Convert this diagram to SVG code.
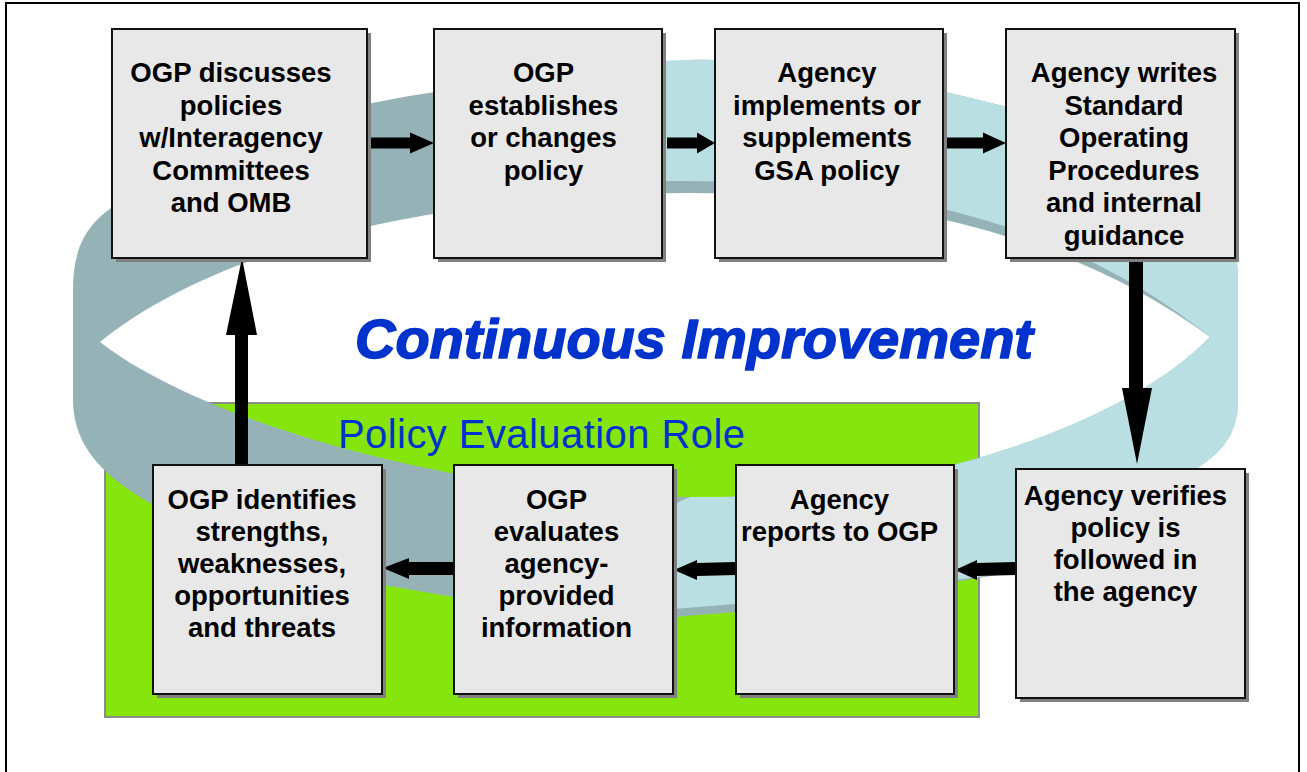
<svg xmlns="http://www.w3.org/2000/svg" width="1307" height="772" viewBox="0 0 1307 772">
<style>
.shadow{fill:#808080;}
.box{fill:#E8E8E8;stroke:#111;stroke-width:2;}
.t{font-family:"Liberation Sans",Arial,sans-serif;font-weight:bold;font-size:27.5px;fill:#000;text-anchor:middle;}
.arrow{fill:#000;}
</style>
<rect x="0" y="0" width="1307" height="772" fill="#fff"/>
<rect x="6" y="3" width="1293" height="800" fill="none" stroke="#000" stroke-width="2"/>
<g id="evaluation-area">
<rect x="105" y="403" width="874" height="314" fill="#86E50C" stroke="#8C8C8C" stroke-width="2"/>
</g>
<g id="ring">
<path fill="#95B3B7" fill-rule="evenodd" d="M73,400 L73,290 C73,245 88,222 120,202 C200,150 300,110 450,90 C530,78 600,64 690,60 C800,58 900,80 1007,107 C1150,145 1238,190 1238,280 L1238,400 C1238,430 1225,450 1200,466 C1130,520 1070,555 1016,572 C940,584 820,605 736,612 L673,617 C560,612 500,604 454,597 L383,585 C280,565 200,535 150,503 C110,480 73,450 73,400 Z M100,342 C200,260 400,195 690,193 C900,193 1080,240 1210,337 C1120,430 900,500 690,497 C450,495 200,420 100,342 Z"/>
<path fill="#B9DFE2" d="M640,62 C660,61 675,60 690,60 C800,58 900,80 1007,107 C1150,145 1238,190 1238,280 L1238,400 C1238,430 1225,450 1200,466 C1130,520 1070,555 1016,572 C940,582 820,598 736,604 L660,610 L660,510 L690,497 C900,500 1120,430 1210,337 C1075,228 900,181 690,181 L640,181 Z"/>
</g>
<text x="355" y="358" textLength="678" lengthAdjust="spacingAndGlyphs" font-family="'Liberation Sans',Arial,sans-serif" font-weight="bold" font-style="italic" font-size="56" fill="#0033CC" stroke="#0033CC" stroke-width="1.6" stroke-linejoin="round">Continuous Improvement</text>
<text x="338" y="448" textLength="407" font-family="'Liberation Sans',Arial,sans-serif" font-size="40" fill="#0033CC">Policy Evaluation Role</text>
<g id="connectors">
<polygon class="arrow" points="369,137.5 410,137.5 410,132.5 434,143 410,153.5 410,148.5 369,148.5"/>
<polygon class="arrow" points="667,137.5 697,137.5 697,132.5 715,143 697,153.5 697,148.5 667,148.5"/>
<polygon class="arrow" points="943,137.5 983,137.5 983,132.5 1006,143 983,153.5 983,148.5 943,148.5"/>
<polygon class="arrow" points="1129,258 1143,258 1143,388 1152,388 1137,464 1122,388 1129,388"/>
<polygon class="arrow" points="1016,562 977,563 977,560 955,570 977,580 977,576 1016,575"/>
<polygon class="arrow" points="736,562 697,563 697,560 674,570 697,580 697,576 736,575"/>
<polygon class="arrow" points="454,562 409,562 409,558 383,568 409,579 409,575 454,575"/>
<polygon class="arrow" points="235,465 248,465 248,335 257,335 242,258 226,335 235,335"/>
</g>
<g id="n1">
<rect class="shadow" x="116" y="33" width="255" height="229"/>
<rect class="box" x="112" y="29" width="255" height="229"/>
<text class="t"><tspan x="231" y="82">OGP discusses</tspan><tspan x="231" y="114.5">policies</tspan><tspan x="231" y="147">w/Interagency</tspan><tspan x="231" y="179.5">Committees</tspan><tspan x="231" y="212">and OMB</tspan></text>
</g>
<g id="n2">
<rect class="shadow" x="438" y="33" width="228" height="229"/>
<rect class="box" x="434" y="29" width="228" height="229"/>
<text class="t"><tspan x="543.5" y="82">OGP</tspan><tspan x="543.5" y="114.5">establishes</tspan><tspan x="543.5" y="147">or changes</tspan><tspan x="543.5" y="179.5">policy</tspan></text>
</g>
<g id="n3">
<rect class="shadow" x="719" y="33" width="228" height="229"/>
<rect class="box" x="715" y="29" width="228" height="229"/>
<text class="t"><tspan x="827" y="82">Agency</tspan><tspan x="827" y="114.5">implements or</tspan><tspan x="827" y="147">supplements</tspan><tspan x="827" y="179.5">GSA policy</tspan></text>
</g>
<g id="n4">
<rect class="shadow" x="1010" y="33" width="229" height="229"/>
<rect class="box" x="1006" y="29" width="229" height="229"/>
<text class="t"><tspan x="1124" y="82">Agency writes</tspan><tspan x="1124" y="114.5">Standard</tspan><tspan x="1124" y="147">Operating</tspan><tspan x="1124" y="179.5">Procedures</tspan><tspan x="1124" y="212">and internal</tspan><tspan x="1124" y="244.5">guidance</tspan></text>
</g>
<g id="n5">
<rect class="shadow" x="157" y="469" width="229" height="229"/>
<rect class="box" x="153" y="465" width="229" height="229"/>
<text class="t"><tspan x="262" y="509">OGP identifies</tspan><tspan x="262" y="541">strengths,</tspan><tspan x="262" y="573">weaknesses,</tspan><tspan x="262" y="605">opportunities</tspan><tspan x="262" y="637">and threats</tspan></text>
</g>
<g id="n6">
<rect class="shadow" x="458" y="469" width="219" height="229"/>
<rect class="box" x="454" y="465" width="219" height="229"/>
<text class="t"><tspan x="556.5" y="509">OGP</tspan><tspan x="556.5" y="541">evaluates</tspan><tspan x="556.5" y="573">agency-</tspan><tspan x="556.5" y="605">provided</tspan><tspan x="556.5" y="637">information</tspan></text>
</g>
<g id="n7">
<rect class="shadow" x="740" y="469" width="218" height="229"/>
<rect class="box" x="736" y="465" width="218" height="229"/>
<text class="t"><tspan x="839.5" y="509">Agency</tspan><tspan x="839.5" y="541">reports to OGP</tspan></text>
</g>
<g id="n8">
<rect class="shadow" x="1020" y="473" width="229" height="229"/>
<rect class="box" x="1016" y="469" width="229" height="229"/>
<text class="t"><tspan x="1125.5" y="505">Agency verifies</tspan><tspan x="1125.5" y="537">policy is</tspan><tspan x="1125.5" y="569">followed in</tspan><tspan x="1125.5" y="601">the agency</tspan></text>
</g>
</svg>
